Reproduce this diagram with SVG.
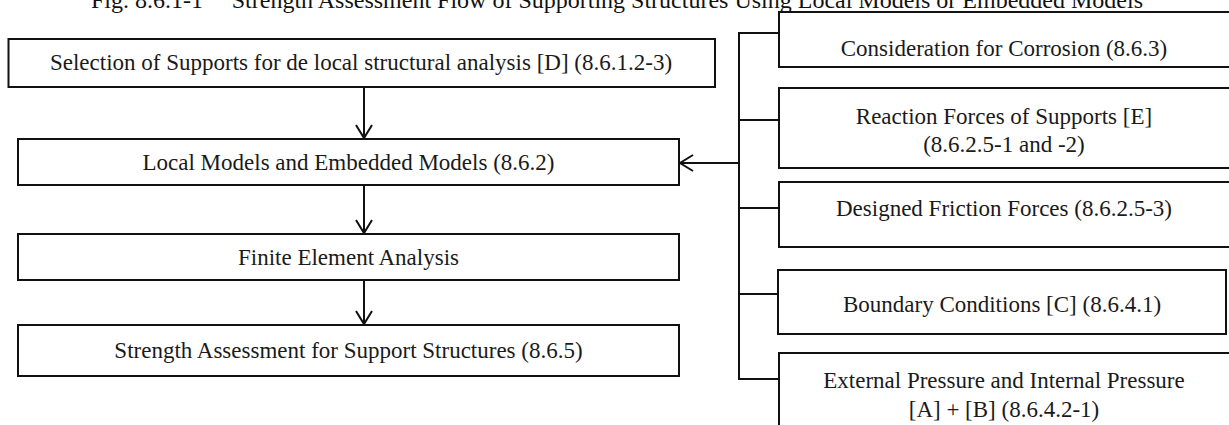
<svg xmlns="http://www.w3.org/2000/svg" width="1229" height="425" viewBox="0 0 1229 425">
<defs>
<style>
.box{fill:#fff;stroke:#111;stroke-width:2}
.t{font-family:"Liberation Serif","Times New Roman",serif;font-size:23px;fill:#1a1a1a;text-anchor:middle}
.title{font-family:"Liberation Serif","Times New Roman",serif;font-size:24px;fill:#111}
.c{fill:none;stroke:#111;stroke-width:2}
</style>
<marker id="ah" markerUnits="userSpaceOnUse" markerWidth="16" markerHeight="18" viewBox="0 0 16 18" refX="14" refY="9" orient="auto">
<path d="M1,1 L14,9 L1,17" fill="none" stroke="#111" stroke-width="2"/>
</marker>
</defs>
<rect width="1229" height="425" fill="#fff"/>
<g id="title">
<text class="title" x="91" y="8">Fig. 8.6.1-1</text>
<text class="title" x="1143" y="8" text-anchor="end">Strength Assessment Flow of Supporting Structures Using Local Models or Embedded Models</text>
</g>
<g id="connectors">
<line class="c" x1="364" y1="87" x2="364" y2="138" marker-end="url(#ah)"/>
<line class="c" x1="364" y1="185" x2="364" y2="233" marker-end="url(#ah)"/>
<line class="c" x1="364" y1="280" x2="364" y2="324" marker-end="url(#ah)"/>
<polyline class="c" points="779,33 739,33 739,379 779,379"/>
<line class="c" x1="739" y1="120" x2="779" y2="120"/>
<line class="c" x1="739" y1="208" x2="779" y2="208"/>
<line class="c" x1="739" y1="294" x2="778" y2="294"/>
<line class="c" x1="739" y1="163" x2="680" y2="163" marker-end="url(#ah)"/>
</g>
<g id="n-selection">
<rect class="box" x="8.5" y="39" width="706.5" height="48"/>
<text class="t" x="361" y="70">Selection of Supports for de local structural analysis [D] (8.6.1.2-3)</text>
</g>
<g id="n-local">
<rect class="box" x="18" y="139" width="661" height="46"/>
<text class="t" x="348.5" y="170">Local Models and Embedded Models (8.6.2)</text>
</g>
<g id="n-fea">
<rect class="box" x="18" y="234" width="661" height="46"/>
<text class="t" x="348.5" y="265">Finite Element Analysis</text>
</g>
<g id="n-strength">
<rect class="box" x="18" y="325" width="661" height="51"/>
<text class="t" x="348.5" y="358">Strength Assessment for Support Structures (8.6.5)</text>
</g>
<g id="n-corrosion">
<rect class="box" x="779" y="12" width="460" height="55"/>
<text class="t" x="1004" y="56">Consideration for Corrosion (8.6.3)</text>
</g>
<g id="n-reaction">
<rect class="box" x="779" y="88" width="460" height="80"/>
<text class="t" x="1004" y="124">Reaction Forces of Supports [E]</text>
<text class="t" x="1004" y="152">(8.6.2.5-1 and -2)</text>
</g>
<g id="n-friction">
<rect class="box" x="779" y="182" width="460" height="65"/>
<text class="t" x="1004" y="216">Designed Friction Forces (8.6.2.5-3)</text>
</g>
<g id="n-boundary">
<rect class="box" x="778" y="270" width="448" height="64"/>
<text class="t" x="1002" y="312">Boundary Conditions [C] (8.6.4.1)</text>
</g>
<g id="n-pressure">
<rect class="box" x="779" y="353" width="460" height="100"/>
<text class="t" x="1004" y="388">External Pressure and Internal Pressure</text>
<text class="t" x="1004" y="417">[A] + [B] (8.6.4.2-1)</text>
</g>
</svg>
